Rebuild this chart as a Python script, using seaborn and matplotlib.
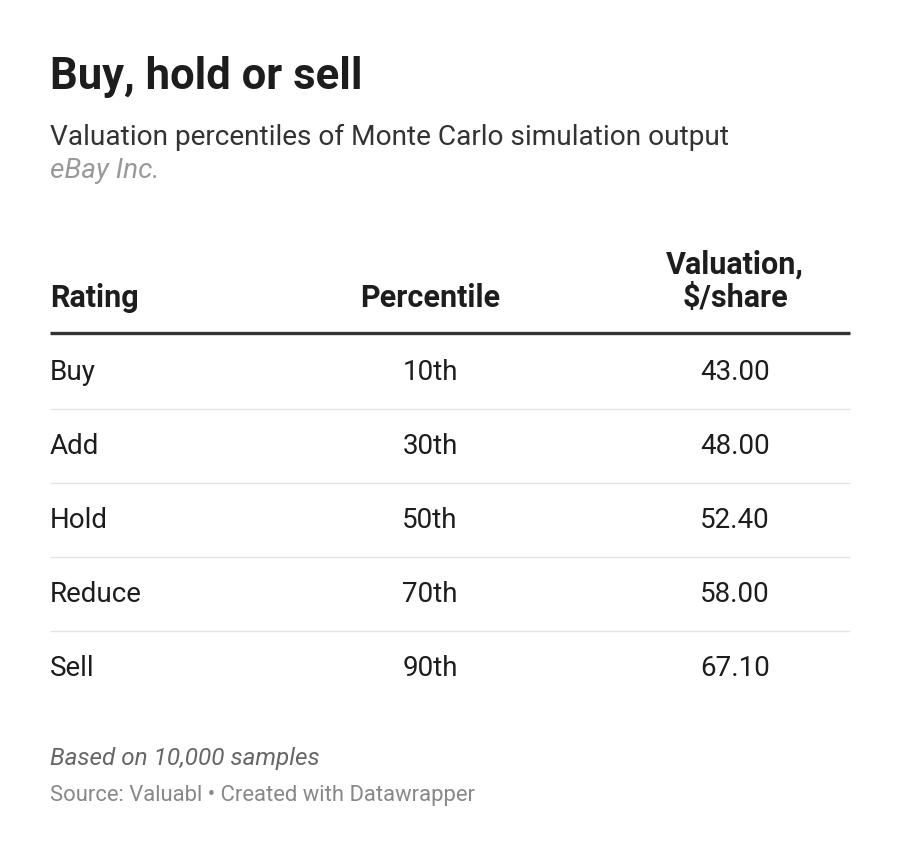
import numpy as np
import matplotlib.pyplot as plt
import seaborn as sns

# table data
ratings = ["Buy", "Add", "Hold", "Reduce", "Sell"]
percentiles = ["10th", "30th", "50th", "70th", "90th"]
valuations = [43.00, 48.00, 52.40, 58.00, 67.10]
col_headers = ["Rating", "Percentile", "Valuation,\n$/share"]

title = "Buy, hold or sell"
subtitle = "Valuation percentiles of Monte Carlo simulation output"
company = "eBay Inc."
note = "Based on 10,000 samples"
source = "Source: Valuabl \u2022 Created with Datawrapper"

sns.set_theme(style="white")
plt.rcParams['font.family'] = ['Roboto', 'DejaVu Sans']

fig = plt.figure(figsize=(9, 8.58), dpi=100)
ax = fig.add_axes([0, 0, 1, 1])
ax.set_xlim(0, 900)
ax.set_ylim(858, 0)
ax.axis('off')

dark = "#1d1d1d"
ax.text(50, 77, title, fontsize=31.4, fontweight='bold', color=dark, va='center')
ax.text(50, 137, subtitle, fontsize=20.2, color="#333333", va='center')
ax.text(50, 171, company, fontsize=20.2, style='italic', color="#999999", va='center')

# column x positions and alignment
col_x = [50, 430, 735]
col_ha = ['left', 'center', 'center']

# header
for x, h, ha in zip(col_x, col_headers, col_ha):
    ax.text(x, 307, h, fontsize=22, fontweight='bold', color=dark,
            ha=ha, va='baseline', linespacing=1.15)
ax.hlines(333, 50, 850, color="#333333", lw=2.4)

# body rows
row_y = 373 + 74 * np.arange(len(ratings))
for i, y in enumerate(row_y):
    ax.text(col_x[0], y, ratings[i], fontsize=20, color=dark, ha='left', va='center')
    ax.text(col_x[1], y, percentiles[i], fontsize=20, color=dark, ha='center', va='center')
    ax.text(col_x[2], y, f"{valuations[i]:.2f}", fontsize=20, color=dark, ha='center', va='center')
    if i < len(ratings) - 1:
        ax.hlines(y + 36, 50, 850, color="#e4e4e4", lw=1)

ax.text(50, 758, note, fontsize=17.5, style='italic', color="#666666", va='center')
ax.text(50, 795, source, fontsize=15.8, color="#888888", va='center')

fig.savefig('out.png', dpi=100, facecolor='white')
